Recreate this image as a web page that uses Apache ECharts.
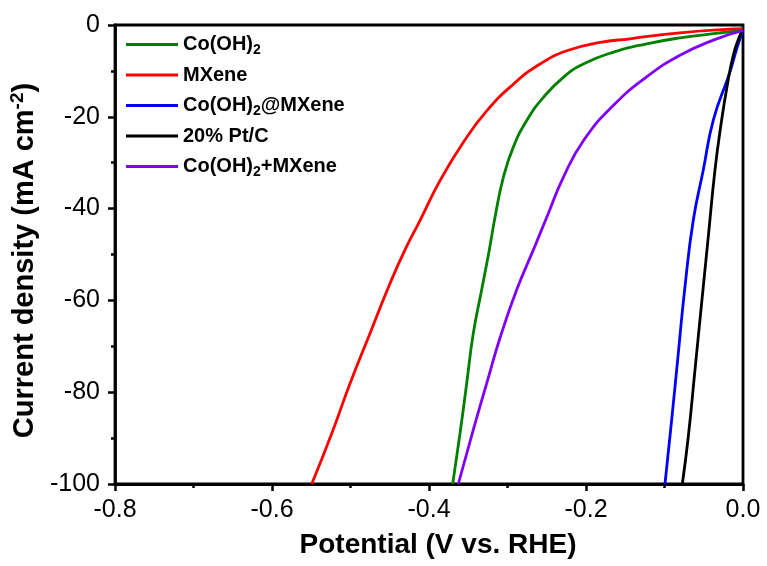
<!DOCTYPE html>
<html>
<head>
<meta charset="utf-8">
<script src="https://cdn.jsdelivr.net/npm/echarts@6/dist/echarts.min.js"></script>
<style>
  html, body { margin: 0; padding: 0; background: #fff; }
  #chartmain { width: 767px; height: 566px; }
</style>
</head>
<body>
<div id="chartmain"></div>
<script>
// values: potential (V vs. RHE) and current density (mA cm-2)
var cohPot = [-0.3698, -0.3605, -0.3520, -0.3436, -0.3329, -0.3232, -0.3159, -0.3053, -0.2926, -0.2755, -0.2544, -0.2289, -0.2034, -0.1650, -0.1227, -0.0803, -0.0378, 0];
var cohCur = [-100, -89.0, -78.1, -67.2, -57.7, -49.0, -41.9, -33.2, -26.6, -20.8, -15.8, -11.4, -8.5, -5.9, -4.1, -2.8, -1.9, -1.2];

var mxPot = [-0.5494, -0.5239, -0.5006, -0.4752, -0.4497, -0.4306, -0.4115, -0.3860, -0.3560, -0.3265, -0.2926, -0.2586, -0.2246, -0.1820, -0.1440, -0.0803, -0.0166, 0];
var mxCur = [-100, -89.0, -78.1, -67.2, -56.3, -49.0, -42.6, -33.9, -25.5, -18.7, -12.9, -8.5, -5.6, -3.8, -3.0, -1.7, -0.9, -0.8];

var atPot = [-0.0994, -0.0909, -0.0824, -0.0739, -0.0633, -0.0506, -0.0378, -0.0166, -0.0080, 0];
var atCur = [-100, -86.1, -71.5, -57.0, -42.5, -31.6, -20.7, -10.2, -5.2, -1.1];

var ptPot = [-0.0773, -0.0697, -0.0612, -0.0527, -0.0442, -0.0357, -0.0272, -0.0208, -0.0124, -0.0038, 0];
var ptCur = [-100, -89.7, -75.2, -60.6, -46.1, -31.6, -20.7, -13.9, -6.6, -2.2, -1.1];

var plusPot = [-0.3627, -0.3436, -0.3265, -0.3096, -0.2883, -0.2671, -0.2500, -0.2289, -0.2025, -0.1650, -0.1227, -0.0803, -0.0378, 0];
var plusCur = [-100, -88.2, -78.1, -68.2, -57.7, -49.0, -41.9, -33.2, -25.0, -17.5, -11.3, -6.6, -3.3, -1.2];

var names = ['Co(OH)2', 'MXene', 'Co(OH)2@MXene', '20% Pt/C', 'Co(OH)2+MXene'];
var colors = ['#008000', '#ff0000', '#0000ff', '#000000', '#8000ff'];

var xTicks = [-0.8, 0, 0.2];   // min, max, interval
var yTicks = [-100, 0, 20];

function pairs(xs, ys) {
    var out = [];
    for (var i = 0; i < xs.length; i++) out.push([xs[i], ys[i]]);
    return out;
}

var seriesData = [
    pairs(cohPot, cohCur),
    pairs(mxPot, mxCur),
    pairs(atPot, atCur),
    pairs(ptPot, ptCur),
    pairs(plusPot, plusCur)
];

var FONT = '"Liberation Sans", Arial, sans-serif';

var chart = echarts.init(document.getElementById('chartmain'));

var series = [];
for (var i = 0; i < names.length; i++) {
    series.push({
        name: names[i],
        type: 'line',
        data: seriesData[i],
        showSymbol: false,
        symbol: 'none',
        smooth: 0.5,
        lineStyle: { color: colors[i], width: 2.8 },
        itemStyle: { color: colors[i] },
        z: 3
    });
}

var option = {
    backgroundColor: '#fff',
    animation: false,
    grid: {
        left: 115, right: 24, top: 25, bottom: 82,
        show: true, borderColor: '#000', borderWidth: 2.8, backgroundColor: 'transparent'
    },
    legend: {
        orient: 'vertical',
        left: 121, top: 27,
        itemWidth: 52, itemHeight: 3,
        itemGap: 8,
        icon: 'rect',
        data: names,
        formatter: function (n) {
            if (n.indexOf('(OH)2') < 0) return '{b|' + n + '}';
            var parts = n.split('(OH)2');
            return '{b|' + parts[0] + '(OH)}{sub|2}{b|' + parts[1] + '}';
        },
        textStyle: {
            fontFamily: FONT, fontSize: 20, fontWeight: 'bold', color: '#000',
            rich: {
                b: { fontFamily: FONT, fontSize: 20, fontWeight: 'bold', color: '#000', lineHeight: 22 },
                sub: { fontFamily: FONT, fontSize: 14, fontWeight: 'bold', color: '#000', padding: [11, 0, 0, 0], lineHeight: 22 }
            }
        }
    },
    xAxis: {
        type: 'value',
        min: xTicks[0], max: xTicks[1], interval: xTicks[2],
        name: 'Potential (V vs. RHE)',
        nameLocation: 'middle',
        nameGap: 47,
        nameTextStyle: { fontFamily: FONT, fontSize: 28, fontWeight: 'bold', color: '#000', padding: [0, 0, 0, 18] },
        axisLine: { show: true, onZero: false, lineStyle: { color: '#000', width: 2.8 } },
        axisTick: { show: true, inside: false, length: 7, lineStyle: { color: '#000', width: 2.5 } },
        minorTick: { show: true, splitNumber: 2, length: 4, lineStyle: { color: '#000', width: 2.5 } },
        splitLine: { show: false },
        axisLabel: {
            margin: 14, fontFamily: FONT, fontSize: 25, color: '#000',
            formatter: function (v) { return v.toFixed(1); }
        }
    },
    yAxis: {
        type: 'value',
        min: yTicks[0], max: yTicks[1], interval: yTicks[2],
        name: 'Current density (mA cm{sup|-2})',
        nameLocation: 'middle',
        nameGap: 72,
        nameTextStyle: {
            fontFamily: FONT, fontSize: 29, fontWeight: 'bold', color: '#000',
            padding: [0, 12, 0, 0],
            rich: {
                sup: { fontFamily: FONT, fontSize: 19, fontWeight: 'bold', color: '#000', padding: [0, 0, 13, 0] }
            }
        },
        axisLine: { show: true, onZero: false, lineStyle: { color: '#000', width: 2.8 } },
        axisTick: { show: true, inside: false, length: 7, lineStyle: { color: '#000', width: 2.5 } },
        minorTick: { show: true, splitNumber: 2, length: 4, lineStyle: { color: '#000', width: 2.5 } },
        splitLine: { show: false },
        axisLabel: {
            margin: 15, fontFamily: FONT, fontSize: 25, color: '#000',
            formatter: function (v) { return String(Math.round(v)); }
        }
    },
    series: series
};

chart.setOption(option);
</script>
</body>
</html>
